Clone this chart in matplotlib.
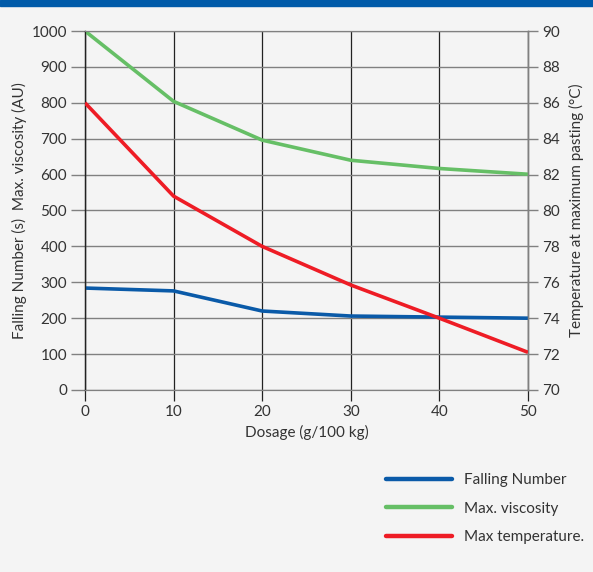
import matplotlib.pyplot as plt
from matplotlib.lines import Line2D
from matplotlib.patches import Rectangle

plt.rcParams['font.family'] = ['Lato', 'DejaVu Sans']

# Data
dosage = [0, 10, 20, 30, 40, 50]
falling_number = [284, 276, 220, 206, 203, 200]
max_viscosity = [1000, 804, 696, 640, 617, 601]
max_temperature = [86.0, 80.8, 78.0, 75.85, 74.0, 72.1]

blue = '#0a5aa8'
green = '#66bf66'
red = '#ee1c25'
bg = '#f4f4f4'
txt = '#333333'
fs = 11

fig = plt.figure(figsize=(5.93, 5.72), dpi=100, facecolor=bg)
fig.patches.append(Rectangle((0, 1 - 6 / 572), 1, 6 / 572, transform=fig.transFigure,
                             color='#005aa9', zorder=10))

ax = fig.add_axes([0.1433, 0.3182, 0.747, 0.6276])
ax.set_facecolor(bg)
ax2 = ax.twinx()

ax.plot(dosage, falling_number, color=blue, lw=2.6, solid_capstyle='butt', zorder=3)
ax.plot(dosage, max_viscosity, color=green, lw=2.6, solid_capstyle='butt', zorder=3)
ax2.plot(dosage, max_temperature, color=red, lw=2.6, solid_capstyle='butt', zorder=3)

ax.set_xlim(0, 50)
ax.set_ylim(0, 1000)
ax2.set_ylim(70, 90)
ax.set_xticks(dosage)
ax.set_yticks(range(0, 1001, 100))
ax2.set_yticks(range(70, 91, 2))

ax.yaxis.grid(True, color='#808080', lw=1)
ax.xaxis.grid(True, color='#222222', lw=0.9)
ax.set_axisbelow(True)

for a in (ax, ax2):
    a.spines['top'].set_color('#808080')
    a.spines['bottom'].set_color('#808080')
    a.spines['left'].set_color('#222222')
    a.spines['right'].set_color('#808080')
    a.spines['left'].set_linewidth(0.9)
    a.spines['right'].set_linewidth(1)

ax.tick_params(axis='y', length=10, width=1, color='#808080', labelsize=fs,
               labelcolor=txt, pad=3)
ax.tick_params(axis='x', length=8, width=0.9, color='#222222', labelsize=fs,
               labelcolor=txt, pad=3)
ax2.tick_params(axis='y', length=7, width=1, color='#808080', labelsize=fs,
                labelcolor=txt, pad=3)

ax.set_xlabel('Dosage (g/100 kg)', fontsize=fs, color=txt, labelpad=4)
ax.set_ylabel('Falling Number (s)  Max. viscosity (AU)', fontsize=fs, color=txt,
              labelpad=3)
ax2.set_ylabel('Temperature at maximum pasting (°C)', fontsize=fs, color=txt,
               labelpad=7)

handles = [Line2D([], [], color=blue, lw=3.2, solid_capstyle='round'),
           Line2D([], [], color=green, lw=3.2, solid_capstyle='round'),
           Line2D([], [], color=red, lw=3.2, solid_capstyle='round')]
labels = ['Falling Number', 'Max. viscosity', 'Max temperature.']
fig.legend(handles, labels, loc='upper left', bbox_to_anchor=(0.628, 0.197),
           frameon=False, fontsize=fs, handlelength=4.3, handletextpad=0.8,
           labelspacing=0.95, labelcolor=txt)

fig.savefig('out.png', dpi=100, facecolor=bg)
